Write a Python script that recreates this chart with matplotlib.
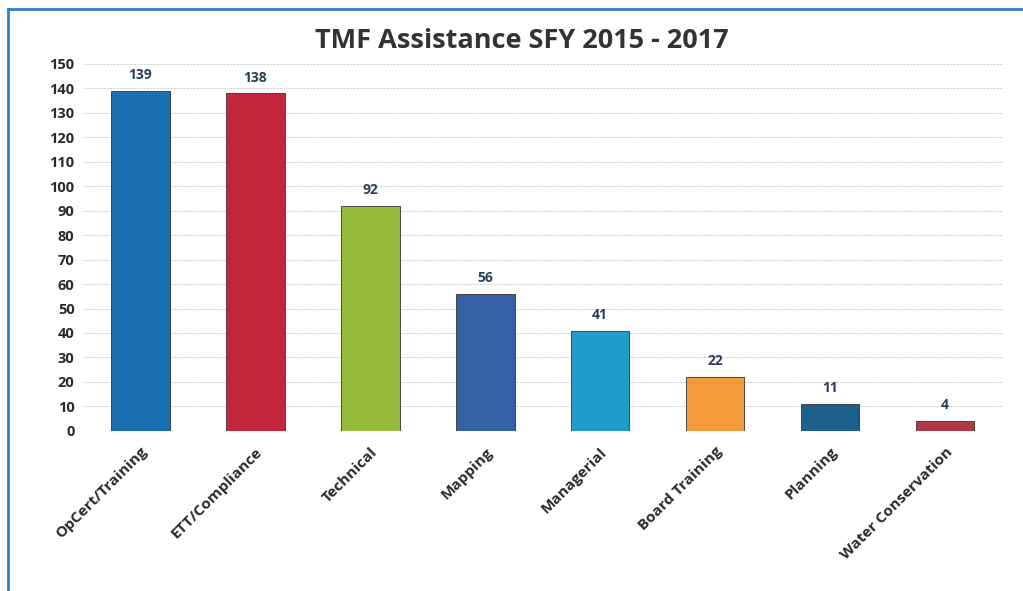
from matplotlib import pyplot as plt
from matplotlib.lines import Line2D
import numpy as np

categories = ['OpCert/Training', 'ETT/Compliance', 'Technical', 'Mapping',
              'Managerial', 'Board Training', 'Planning', 'Water Conservation']
values = [139, 138, 92, 56, 41, 22, 11, 4]
bar_colors = ['#1b6fb3', '#c4263d', '#95bb3a', '#3461a8',
              '#1f9cc9', '#f29a3c', '#1c5f8c', '#b13947']
y_ticks = list(range(0, 151, 10))

plt.rcParams['font.family'] = ['Open Sans', 'DejaVu Sans']

fig = plt.figure(figsize=(10.23, 5.91), dpi=100)
ax = fig.add_axes([0.081, 0.271, 0.899, 0.621])

x = np.arange(len(categories))
bars = ax.bar(x, values, width=0.51, color=bar_colors, edgecolor='#333333',
              linewidth=0.6, zorder=3)

for rect, val in zip(bars, values):
    ax.text(rect.get_x() + rect.get_width() / 2, val + 3.5, str(val),
            ha='center', va='bottom', fontsize=10, fontweight='bold',
            color='#2a3f5a')

ax.set_xlim(-0.5, len(categories) - 0.5)
ax.set_ylim(0, 150)
ax.set_yticks(y_ticks)
ax.set_yticklabels([str(t) for t in y_ticks], fontsize=10.5, fontweight='bold',
                   color='#2a2a2a')
ax.set_xticks(x)
ax.set_xticklabels(categories, rotation=45, ha='right', rotation_mode='anchor',
                   fontsize=11, fontweight='bold', color='#2a2a2a')
ax.tick_params(length=0, pad=6)
ax.tick_params(axis='x', pad=10)

ax.grid(axis='y', color='#d2d2d2', linestyle=(0, (2, 1)), linewidth=0.8, zorder=0)
for s in ax.spines.values():
    s.set_visible(False)

fig.suptitle('TMF Assistance SFY 2015 - 2017', x=0.51, y=0.952, fontsize=19.5,
             fontweight='bold', color='#333333')

# blue frame of the scanned page
fig.add_artist(Line2D([0.008, 0.008], [0.0, 0.985], color='#2f7fc0', linewidth=2,
                      transform=fig.transFigure))
fig.add_artist(Line2D([0.008, 1.0], [0.985, 0.985], color='#2f7fc0', linewidth=2,
                      transform=fig.transFigure))

fig.savefig('out.png', dpi=100)
